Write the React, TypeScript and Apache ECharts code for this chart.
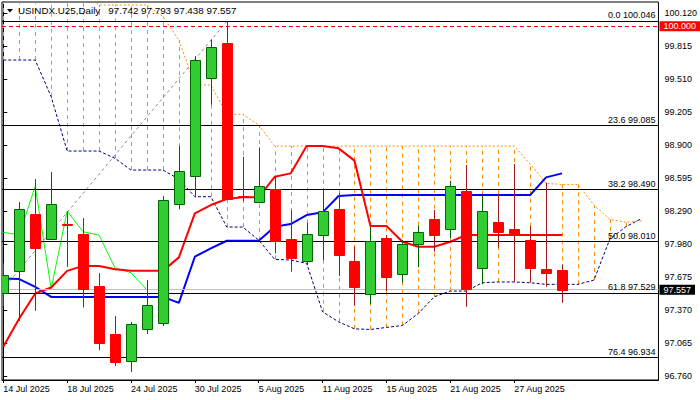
import React, { useEffect, useRef } from "react";
import * as echarts from "echarts";

const FONT = '"Liberation Sans", Arial, sans-serif';

const DATES = [
  "14 Jul 2025", "15 Jul 2025", "16 Jul 2025", "17 Jul 2025", "18 Jul 2025",
  "21 Jul 2025", "22 Jul 2025", "23 Jul 2025", "24 Jul 2025", "25 Jul 2025",
  "28 Jul 2025", "29 Jul 2025", "30 Jul 2025", "31 Jul 2025", "1 Aug 2025",
  "4 Aug 2025", "5 Aug 2025", "6 Aug 2025", "7 Aug 2025", "8 Aug 2025",
  "11 Aug 2025", "12 Aug 2025", "13 Aug 2025", "14 Aug 2025", "15 Aug 2025",
  "18 Aug 2025", "19 Aug 2025", "20 Aug 2025", "21 Aug 2025", "22 Aug 2025",
  "25 Aug 2025", "26 Aug 2025", "27 Aug 2025", "28 Aug 2025", "29 Aug 2025",
  "1 Sep 2025",
];

const OPEN = [97.525, 97.735, 98.257, 98.031, 98.172, 98.075, 97.595, 97.149, 96.903, 97.2, 97.253, 98.35, 98.609, 99.518, 99.845, 98.43, 98.368, 98.489, 98.029, 97.822, 98.063, 98.304, 97.822, 97.516, 98.035, 97.702, 97.98, 98.214, 98.118, 98.473, 97.762, 98.186, 98.121, 98.02, 97.748, 97.742];
const HIGH = [97.803, 98.371, 98.585, 98.65, 98.285, 98.223, 97.713, 97.316, 97.26, 97.648, 98.427, 98.888, 99.724, 99.879, 100.046, 98.791, 98.878, 98.612, 98.297, 98.18, 98.489, 98.458, 97.957, 98.143, 98.066, 98.02, 98.156, 98.297, 98.569, 98.714, 98.43, 98.442, 98.724, 98.149, 98.551, 97.793];
const LOW = [97.408, 97.271, 97.364, 98.028, 97.772, 97.394, 96.999, 96.853, 96.797, 97.149, 97.222, 98.304, 98.415, 99.273, 98.39, 98.38, 98.365, 97.896, 97.726, 97.788, 97.834, 97.686, 97.41, 97.423, 97.546, 97.624, 97.767, 97.911, 98.035, 97.401, 97.611, 97.949, 97.633, 97.627, 97.587, 97.438];
const CLOSE = [97.692, 98.304, 97.942, 98.35, 98.163, 97.568, 97.07, 96.892, 97.241, 97.416, 98.39, 98.656, 99.684, 99.805, 98.396, 98.42, 98.519, 98.013, 97.851, 98.075, 98.285, 97.878, 97.587, 98.013, 97.68, 97.98, 98.091, 98.068, 98.517, 97.568, 98.288, 98.096, 98.065, 97.762, 97.717, 97.557];

const TENKAN = [97.03, 97.293, 97.524, 97.58, 97.734, 97.78, 97.78, 97.749, 97.734, 97.734, 97.734, 97.859, 98.267, 98.344, 98.4, 98.416, 98.416, 98.605, 98.637, 98.89, 98.89, 98.869, 98.755, 98.149, 98.149, 98.004, 97.957, 97.957, 98.004, 98.066, 98.066, 98.066, 98.066, 98.066, 98.066, 98.066];
const KIJUN = [97.664, 97.658, 97.586, 97.493, 97.493, 97.493, 97.493, 97.493, 97.493, 97.493, 97.493, 97.437, 97.865, 97.942, 98.013, 98.013, 98.013, 98.143, 98.168, 98.251, 98.276, 98.427, 98.436, 98.436, 98.436, 98.436, 98.436, 98.436, 98.436, 98.436, 98.436, 98.436, 98.436, 98.436, 98.6, 98.637];
const CHIKOU = [98.091, 98.068, 98.517, 97.568, 98.288, 98.096, 98.065, 97.762, 97.717, 97.557];
const SPAN_A = [99.687, 99.687, 99.687, 99.347, 98.844, 98.844, 98.844, 98.777, 98.668, 98.668, 98.668, 98.584, 98.421, 98.421, 98.14, 98.14, 98.019, 97.841, 97.834, 97.804, 97.355, 97.262, 97.197, 97.191, 97.21, 97.228, 97.34, 97.494, 97.547, 97.547, 97.624, 97.631, 97.631, 97.624, 97.609, 97.609, 97.609, 97.649, 98.03, 98.143, 98.22];
const SPAN_B = [100.3, 100.3, 100.3, 100.3, 100.3, 100.3, 100.197, 100.197, 100.197, 100.197, 100.09, 99.873, 99.456, 99.456, 99.184, 99.184, 99.085, 98.89, 98.89, 98.89, 98.89, 98.89, 98.89, 98.89, 98.89, 98.89, 98.89, 98.89, 98.89, 98.89, 98.89, 98.89, 98.89, 98.723, 98.544, 98.535, 98.535, 98.343, 98.211, 98.185, 98.198];

const FIB_LEVELS = ["0.0", "23.6", "38.2", "50.0", "61.8", "76.4"];
const FIB_PRICES = [100.046, 99.085, 98.49, 98.01, 97.529, 96.934];
const FIB_TREND_X = [-9, 14];
const FIB_TREND_Y = [95.974, 100.046];
const ALERT_PRICE = 100.0;

const X_TICKS = [0, 4, 8, 12, 16, 20, 24, 28, 32];
const Y_TICKS = [96.76, 97.065, 97.37, 97.675, 97.98, 98.29, 98.595, 98.9, 99.205, 99.51, 99.815, 100.12];

const SYMBOL = "USINDX.U25,Daily";

export default function App() {
  const ref = useRef<HTMLDivElement | null>(null);

  useEffect(() => {
    if (!ref.current) return;
    const chart = echarts.init(ref.current, undefined, { renderer: "svg" });
    const last = DATES.length - 1;
    const header = `${SYMBOL}   ${OPEN[last].toFixed(3)} ${HIGH[last].toFixed(3)} ${LOW[last].toFixed(3)} ${CLOSE[last].toFixed(3)}`;

    const candles = DATES.map((_, i) => [i, OPEN[i], CLOSE[i], LOW[i], HIGH[i]]);
    const hatch = SPAN_A.map((a, i) => [i, a, SPAN_B[i]]).filter((d) => d[2] > d[1]);

    const lineBase = {
      type: "line",
      showSymbol: false,
      symbol: "none",
      silent: true,
      animation: false,
    };

    const fibMarks = FIB_PRICES.map((p, k) => ({
      yAxis: p,
      lineStyle: { color: "#000", width: 1, type: "solid" },
      label: {
        show: true,
        position: "insideEndTop",
        formatter: `${FIB_LEVELS[k]} ${p.toFixed(3)}`,
        color: "#000",
        fontSize: 9,
        fontFamily: FONT,
        distance: [3, 1],
      },
    }));

    const option: any = {
      animation: false,
      backgroundColor: "#fff",
      grid: {
        left: 2,
        top: 2,
        right: 40,
        bottom: 20,
        show: true,
        borderColor: "#000",
        borderWidth: 1,
        backgroundColor: "transparent",
      },
      xAxis: {
        type: "value",
        min: -0.08,
        max: 41.04,
        axisLine: { show: true, lineStyle: { color: "#000" } },
        splitLine: { show: false },
        axisTick: { show: true, customValues: X_TICKS, length: 3, lineStyle: { color: "#000" } },
        axisLabel: {
          customValues: X_TICKS,
          formatter: (v: number) => DATES[Math.round(v)] || "",
          align: "left",
          margin: 4,
          fontSize: 9,
          fontFamily: FONT,
          color: "#000",
        },
      },
      yAxis: {
        type: "value",
        position: "right",
        min: 96.723,
        max: 100.2247,
        axisLine: { show: true, lineStyle: { color: "#000" } },
        splitLine: { show: false },
        axisTick: { show: true, customValues: Y_TICKS, length: 4, lineStyle: { color: "#000" } },
        axisLabel: {
          customValues: Y_TICKS,
          formatter: (v: number) => v.toFixed(3),
          margin: 6,
          fontSize: 9,
          fontFamily: FONT,
          color: "#000",
        },
      },
      graphic: [
        {
          type: "polygon",
          shape: { points: [[7, 9], [13, 9], [10, 12.5]] },
          style: { fill: "#000" },
          z: 100,
        },
        {
          type: "text",
          x: 18,
          y: 10.5,
          style: {
            text: header,
            fontSize: 9.8,
            fontFamily: FONT,
            fill: "#000",
            verticalAlign: "middle",
          },
          z: 100,
        },
      ],
      series: [
        {
          type: "custom",
          z: 1,
          clip: true,
          silent: true,
          data: hatch,
          encode: { x: 0, y: [1, 2] },
          renderItem: (_p: any, api: any) => {
            const i = api.value(0);
            const p1 = api.coord([i, api.value(1)]);
            const p2 = api.coord([i, api.value(2)]);
            const x = Math.round(p1[0]) + 0.5;
            return {
              type: "line",
              shape: { x1: x, y1: p1[1], x2: x, y2: p2[1] },
              style: { stroke: "#ff8c00", lineWidth: 1, lineDash: [4, 4] },
            };
          },
        },
        {
          ...lineBase,
          z: 2,
          data: SPAN_B.map((v, i) => [i, v]),
          lineStyle: { color: "#ff8c00", width: 1, type: [2, 2] },
        },
        {
          ...lineBase,
          z: 2,
          data: SPAN_A.map((v, i) => [i, v]),
          lineStyle: { color: "#000080", width: 1, type: [3, 2] },
        },
        {
          ...lineBase,
          z: 2,
          data: FIB_TREND_X.map((x, i) => [x, FIB_TREND_Y[i]]),
          lineStyle: { color: "#8c8c8c", width: 1, type: [3, 3] },
          markLine: {
            silent: true,
            symbol: ["none", "none"],
            animation: false,
            data: fibMarks,
          },
        },
        {
          ...lineBase,
          z: 3,
          data: CHIKOU.map((v, i) => [i, v]),
          lineStyle: { color: "#00ff00", width: 1 },
        },
        {
          ...lineBase,
          z: 4,
          clip: false,
          data: KIJUN.map((v, i) => [i, v]),
          lineStyle: { color: "#0000ff", width: 2 },
          markLine: {
            silent: true,
            symbol: ["none", "none"],
            animation: false,
            data: [
              {
                yAxis: ALERT_PRICE,
                lineStyle: { color: "#ff0000", width: 1, type: [4, 3] },
                label: {
                  show: true,
                  position: "end",
                  formatter: ALERT_PRICE.toFixed(3),
                  color: "#fff",
                  backgroundColor: "#ff0000",
                  padding: [1, 4, 0, 4],
                  fontSize: 9,
                  fontFamily: FONT,
                  distance: 1,
                },
              },
              {
                yAxis: CLOSE[last],
                lineStyle: { color: "#c0c0c0", width: 1, type: "solid" },
                label: {
                  show: true,
                  position: "end",
                  formatter: CLOSE[last].toFixed(3),
                  color: "#fff",
                  backgroundColor: "#000",
                  padding: [1, 4, 0, 4],
                  fontSize: 9,
                  fontFamily: FONT,
                  distance: 1,
                },
              },
            ],
          },
        },
        {
          ...lineBase,
          z: 4,
          data: TENKAN.map((v, i) => [i, v]),
          lineStyle: { color: "#ff0000", width: 2 },
        },
        {
          type: "custom",
          z: 10,
          clip: true,
          silent: true,
          data: candles,
          encode: { x: 0, y: [1, 2, 3, 4] },
          renderItem: (_p: any, api: any) => {
            const i = api.value(0);
            const o = api.value(1);
            const c = api.value(2);
            const l = api.value(3);
            const h = api.value(4);
            const pO = api.coord([i, o]);
            const pC = api.coord([i, c]);
            const pL = api.coord([i, l]);
            const pH = api.coord([i, h]);
            const bull = c > o;
            const x = Math.round(pO[0]) + 0.5;
            const w = Math.round(api.size([1, 0])[0] * 0.62);
            const top = Math.round(Math.min(pO[1], pC[1])) + 0.5;
            const bottom = Math.round(Math.max(pO[1], pC[1])) + 0.5;
            const fill = bull ? "#32cd32" : "#ff0000";
            const edge = bull ? "#006400" : "#ff0000";
            const wick = bull ? "#006400" : "#a01818";
            return {
              type: "group",
              children: [
                {
                  type: "line",
                  shape: { x1: x, y1: pH[1], x2: x, y2: pL[1] },
                  style: { stroke: wick, lineWidth: 1 },
                },
                {
                  type: "rect",
                  shape: { x: x - w / 2, y: top, width: w, height: Math.max(1, bottom - top) },
                  style: { fill, stroke: edge, lineWidth: 1 },
                },
              ],
            };
          },
        },
      ],
    };

    chart.setOption(option);
    return () => {
      chart.dispose();
    };
  }, []);

  return (
    <div
      ref={ref}
      style={{ position: "fixed", left: 0, top: 0, width: 700, height: 400, background: "#fff" }}
    />
  );
}
